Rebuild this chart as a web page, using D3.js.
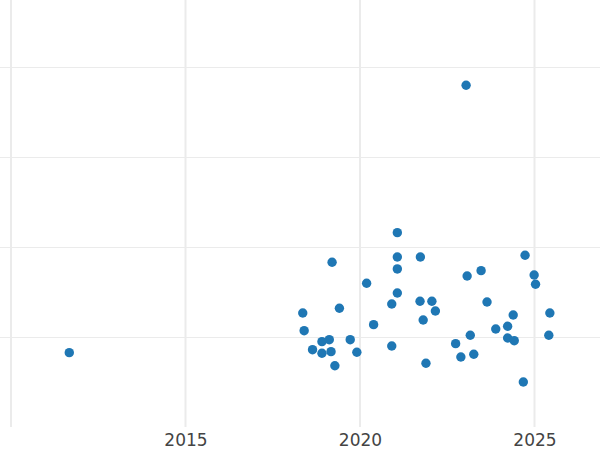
<!DOCTYPE html>
<html><head><meta charset="utf-8">
<script src="https://cdn.jsdelivr.net/npm/d3@7"></script>
<style>body{margin:0;background:#fff}svg{display:block}</style>
</head><body>
<script>
const years = [2011.67,2023.04,2021.07,2019.20,2021.07,2021.73,2024.73,2021.07,2023.07,2023.47,2024.99,2025.03,2020.19,2021.07,2020.91,2021.72,2022.06,2023.64,2022.16,2018.36,2019.41,2025.44,2024.39,2021.81,2020.39,2018.40,2023.89,2024.23,2023.16,2025.41,2019.12,2018.91,2019.72,2024.23,2024.42,2022.74,2020.91,2018.64,2018.91,2019.17,2019.91,2022.89,2023.26,2021.89,2019.28,2024.68];
const values = [0.826,3.797,2.159,1.830,1.889,1.889,1.908,1.756,1.678,1.737,1.689,1.586,1.597,1.489,1.367,1.397,1.397,1.389,1.289,1.267,1.319,1.267,1.244,1.189,1.137,1.070,1.089,1.119,1.019,1.019,0.970,0.948,0.970,0.989,0.959,0.926,0.900,0.859,0.819,0.837,0.830,0.778,0.808,0.708,0.681,0.500];
const xTicks = [2010, 2015, 2020, 2025];
const yTicks = [1, 2, 3, 4];

const W = 600, H = 450;
const svg = d3.select("body").append("svg").attr("width", W).attr("height", H);
const x = d3.scaleLinear().domain([2009.685, 2026.877]).range([0, 600]);
const y = d3.scaleLinear().domain([0, 4.744]).range([427, 0]);

const g = svg.append("g");
g.append("g").selectAll("line").data(yTicks).join("line")
  .attr("x1", 0).attr("x2", W).attr("y1", d => y(d)+0.5).attr("y2", d => y(d)+0.5)
  .attr("stroke", "#ebebeb").attr("stroke-width", 1);
g.append("g").selectAll("line").data(xTicks).join("line")
  .attr("x1", d => x(d)).attr("x2", d => x(d)).attr("y1", 0).attr("y2", 427)
  .attr("stroke", "#ebebeb").attr("stroke-width", 2);

const xAxis = d3.axisBottom(x).tickValues(xTicks.slice(1)).tickFormat(d3.format("d")).tickSize(0).tickPadding(7);
const ax = svg.append("g").attr("transform", "translate(0,427)").call(xAxis);
ax.select(".domain").remove();
ax.selectAll("text").attr("font-family", "DejaVu Sans, sans-serif").attr("font-size", 17).attr("fill", "#444");

svg.append("g").selectAll("circle").data(years.map((d,i)=>[d, values[i]])).join("circle")
  .attr("cx", d => x(d[0])).attr("cy", d => y(d[1])).attr("r", 4.7)
  .attr("fill", "#1f77b4");
</script>
</body></html>
